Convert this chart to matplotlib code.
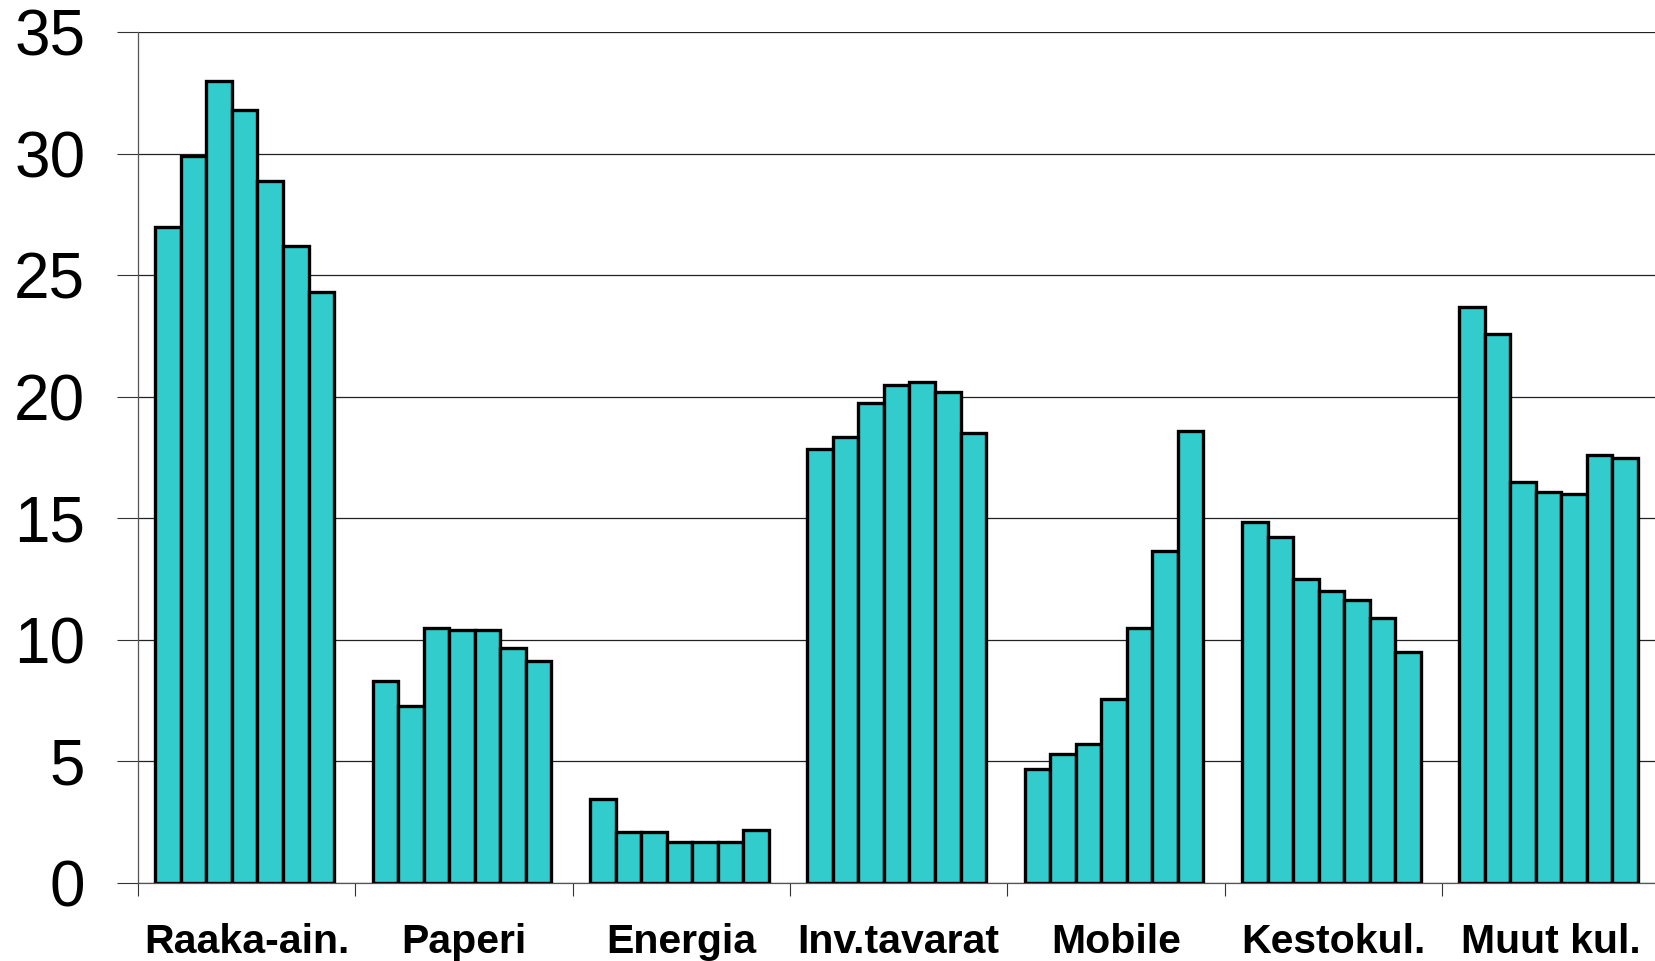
import matplotlib
matplotlib.use("Agg")
import matplotlib.pyplot as plt
import numpy as np

plt.rcParams['font.family'] = ['Liberation Sans', 'DejaVu Sans']

categories = ["Raaka-ain.", "Paperi", "Energia", "Inv.tavarat", "Mobile", "Kestokul.", "Muut kul."]
values = [
    [27.0, 29.9, 33.0, 31.8, 28.9, 26.2, 24.3],
    [8.3, 7.3, 10.5, 10.4, 10.4, 9.65, 9.15],
    [3.45, 2.1, 2.1, 1.7, 1.7, 1.7, 2.2],
    [17.85, 18.35, 19.75, 20.5, 20.6, 20.2, 18.5],
    [4.7, 5.3, 5.7, 7.55, 10.5, 13.65, 18.6],
    [14.85, 14.25, 12.5, 12.0, 11.65, 10.9, 9.5],
    [23.7, 22.6, 16.5, 16.1, 16.0, 17.6, 17.5],
]
yticks = [0, 5, 10, 15, 20, 25, 30, 35]

fig = plt.figure(figsize=(16.56, 9.61), dpi=100)
ax = fig.add_axes([138/1656, 78/961, 1 - 138/1656 + 0.002, (883 - 32.3)/961])

n_cat = len(categories)
n_bar = len(values[0])
group_w = 0.822
bw = group_w / n_bar
for i, vals in enumerate(values):
    xs = i + 0.491 - group_w/2 + bw*(np.arange(n_bar) + 0.5)
    ax.bar(xs, vals, width=bw, color='#33CCCC', edgecolor='black', linewidth=2.4, zorder=3)

ax.set_xlim(0, n_cat)
ax.set_ylim(0, 35)
ax.set_yticks(yticks)
ax.set_yticklabels([str(t) for t in yticks], fontsize=46)
ax.tick_params(axis='y', length=15, width=0.8, pad=23, direction='out', color='#333333')

ax.set_xticks(np.arange(n_cat + 1))
ax.set_xticklabels([''] * (n_cat + 1))
ax.tick_params(axis='x', which='major', length=9, width=0.8, color='#333333')
ax.set_xticks(np.arange(n_cat) + 0.5, minor=True)
ax.set_xticklabels(categories, minor=True, fontsize=29.5, fontweight='bold')
ax.tick_params(axis='x', which='minor', length=0, pad=28.5)

ax.grid(axis='y', color='#222222', linewidth=0.9, zorder=0)
ax.set_axisbelow(True)
for s in ['top', 'right']:
    ax.spines[s].set_visible(False)
ax.spines['left'].set_color('#555555')
ax.spines['left'].set_linewidth(0.9)
ax.spines['bottom'].set_color('#555555')
ax.spines['bottom'].set_linewidth(0.9)

fig.savefig('out.png', dpi=100)
